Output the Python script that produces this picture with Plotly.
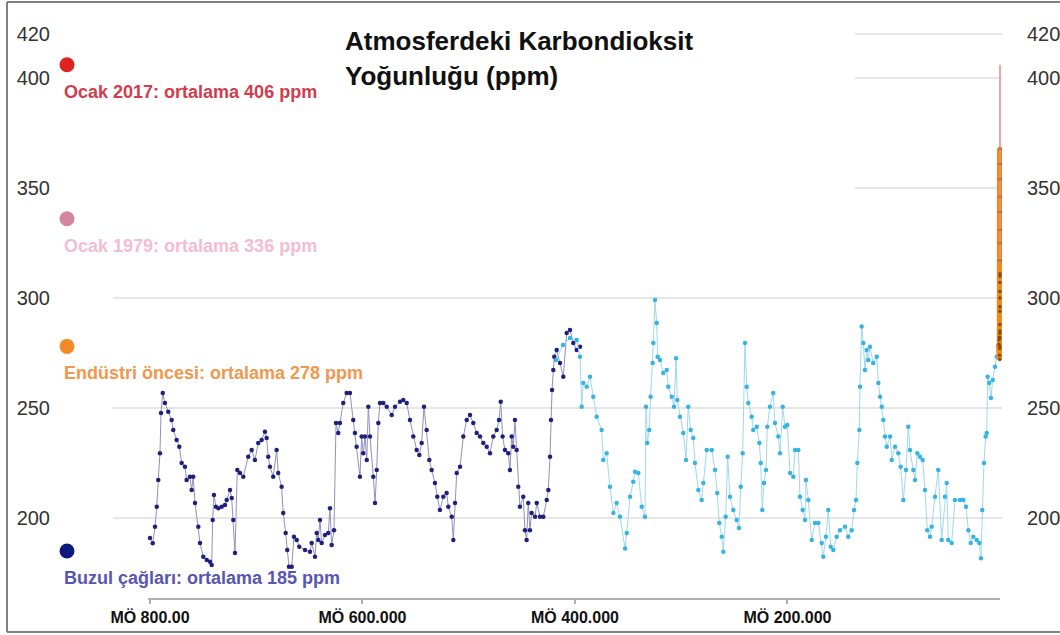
import plotly.graph_objects as go

# ---------------- data ----------------
# EPICA Dome C (older record, navy) : age in thousands of years before present, CO2 ppm
navy_age_kyr = [800.0, 797.4, 795.3, 793.6, 792.2, 790.6, 789.6, 788.0, 785.9, 782.8,
                779.6, 778.1, 774.9, 772.4, 770.2, 767.1, 765.5, 762.4, 760.8, 759.3,
                757.6, 754.5, 752.9, 749.8, 746.6, 743.5, 741.9, 741.0, 739.8, 737.9,
                735.7, 732.5, 729.4, 727.8, 724.7, 723.1, 721.6, 720.0, 717.8, 715.3,
                712.2, 707.5, 704.3, 701.2, 698.1, 694.9, 691.8, 690.2, 688.7, 687.1,
                684.0, 680.8, 679.3, 676.1, 674.6, 672.3, 670.8, 669.2, 666.6, 664.5,
                661.9, 659.5, 654.1, 649.4, 647.8, 644.7, 643.1, 641.6, 640.0, 638.4,
                635.3, 632.2, 630.6, 629.0, 626.8, 624.9, 622.8, 621.2, 618.1, 614.9,
                611.8, 608.7, 607.1, 605.5, 602.4, 600.8, 599.3, 597.6, 596.0, 594.5,
                592.9, 589.8, 588.2, 586.6, 585.1, 583.5, 580.4, 577.2, 572.5, 569.4,
                564.7, 561.6, 558.4, 555.3, 552.2, 549.0, 546.5, 544.3, 542.1, 539.6,
                537.1, 534.9, 531.8, 529.6, 527.1, 523.9, 520.8, 519.2, 516.0, 514.5,
                512.9, 511.3, 508.2, 505.1, 501.9, 498.8, 495.7, 492.5, 489.4, 486.3,
                483.1, 480.0, 476.9, 473.7, 471.5, 469.9, 468.1, 465.9, 462.8, 461.2,
                459.6, 458.1, 456.5, 454.9, 453.4, 451.8, 448.7, 447.1, 445.5, 444.0,
                442.4, 440.8, 437.6, 436.0, 432.9, 429.8, 426.6, 425.1, 423.5, 422.6,
                421.6, 420.4, 419.5, 417.2, 414.1, 411.0, 407.8, 404.7, 401.6, 398.4,
                395.3]
navy_ppm = [190.9, 188.5, 196.0, 205.1, 217.3, 229.5, 247.7, 256.8, 252.3, 248.3,
            244.5, 240.0, 235.5, 232.4, 225.0, 223.3, 217.3, 218.8, 212.7, 218.8,
            206.8, 196.0, 188.6, 182.4, 180.9, 180.1, 178.6, 199.1, 210.5, 205.1,
            204.5, 205.1, 205.9, 208.2, 212.7, 209.1, 199.1, 184.1, 221.8, 220.5,
            218.8, 227.9, 230.9, 226.4, 234.1, 235.5, 239.2, 236.4, 227.9, 223.3,
            218.8, 230.9, 220.5, 214.2, 202.3, 193.2, 185.5, 177.9, 177.9, 191.5,
            190.0, 187.0, 185.5, 184.7, 188.6, 182.4, 193.2, 190.0, 199.1, 188.6,
            192.3, 193.2, 204.5, 187.7, 194.5, 243.2, 238.6, 243.2, 252.3, 256.8,
            256.8, 244.5, 238.6, 232.4, 218.8, 237.0, 229.5, 237.0, 226.4, 250.6,
            237.0, 218.8, 206.8, 221.8, 243.2, 252.3, 252.3, 250.6, 246.8, 250.6,
            252.9, 253.6, 252.3, 244.5, 237.0, 230.9, 228.6, 234.1, 250.6, 240.0,
            226.4, 221.8, 215.9, 209.7, 203.6, 209.7, 211.4, 205.1, 200.6, 190.0,
            206.8, 220.5, 223.3, 237.0, 244.5, 246.8, 243.2, 238.6, 237.0, 234.1,
            232.4, 229.5, 237.0, 240.0, 244.5, 252.9, 237.0, 230.9, 229.5, 221.8,
            237.0, 232.4, 244.5, 230.9, 214.2, 205.1, 209.7, 194.5, 190.0, 206.8,
            194.5, 202.3, 200.6, 206.8, 200.6, 200.6, 208.2, 212.7, 227.9, 244.5,
            258.2, 267.3, 273.3, 276.4, 270.5, 264.2, 284.1, 285.5, 279.5, 276.4,
            277.9]

# Vostok (younger record, light blue)
cyan_age_kyr = [417.9, 411.3, 404.7, 398.4, 395.3, 393.7, 392.2, 389.0, 385.9, 382.8,
                379.6, 374.9, 373.4, 370.2, 367.1, 363.9, 360.8, 357.6, 352.9, 351.3,
                348.2, 345.1, 343.5, 340.4, 337.2, 334.1, 333.2, 332.0, 330.1, 328.8,
                326.9, 326.3, 324.7, 323.1, 322.2, 320.0, 316.9, 313.7, 312.2, 309.0,
                306.8, 304.9, 303.7, 301.2, 298.1, 295.5, 293.4, 291.1, 288.7, 287.1,
                283.9, 280.8, 279.2, 276.0, 271.3, 268.2, 266.1, 264.2, 261.9, 260.4,
                258.2, 256.3, 254.1, 251.0, 247.8, 245.6, 244.0, 242.2, 240.0, 238.4,
                236.9, 233.7, 232.2, 229.0, 226.5, 225.2, 223.7, 222.1, 220.2, 219.0,
                216.5, 213.4, 211.8, 208.7, 207.1, 204.5, 202.4, 200.2, 197.6, 194.5,
                192.9, 189.8, 188.2, 185.7, 183.5, 182.6, 180.4, 177.2, 174.1, 171.0,
                167.8, 166.3, 163.8, 161.6, 159.3, 156.9, 153.7, 150.6, 145.9, 142.8,
                139.6, 137.4, 135.5, 134.3, 132.4, 131.8, 130.2, 128.7, 127.1, 125.5,
                124.0, 122.4, 119.3, 116.0, 114.5, 112.9, 111.3, 109.8, 108.2, 106.6,
                103.5, 101.9, 98.8, 95.7, 93.5, 91.0, 88.5, 86.3, 84.7, 81.6,
                80.0, 77.8, 75.3, 72.8, 70.6, 68.4, 65.9, 64.3, 61.2, 58.1,
                54.9, 51.8, 50.2, 48.7, 45.5, 42.4, 37.6, 34.5, 32.0, 29.8,
                27.6, 25.1, 21.9, 19.5, 17.9, 16.7, 15.1, 13.5, 12.5, 11.6,
                10.1, 8.5, 6.9, 4.7, 3.1, 1.6]
cyan_ppm = [271.8, 278.6, 281.8, 280.9, 273.3, 250.6, 261.4, 259.7, 264.2, 255.1,
            246.0, 240.0, 226.4, 229.5, 214.2, 202.3, 206.8, 200.6, 186.2, 193.2,
            209.7, 216.5, 221.0, 220.5, 205.1, 200.6, 250.6, 234.1, 240.0, 255.1,
            270.5, 279.5, 299.1, 288.6, 273.3, 271.8, 265.9, 267.3, 259.7, 255.1,
            250.6, 272.6, 253.6, 246.0, 238.6, 226.4, 250.6, 240.0, 236.4, 225.0,
            212.7, 208.2, 215.9, 230.9, 230.9, 221.8, 211.4, 197.7, 191.5, 184.7,
            200.6, 227.9, 209.7, 203.6, 199.1, 195.5, 214.2, 229.5, 279.5, 259.7,
            252.3, 246.0, 240.0, 241.5, 234.1, 225.0, 203.6, 215.9, 221.8, 241.5,
            250.6, 256.8, 243.2, 237.0, 229.5, 250.6, 241.5, 242.3, 220.5, 218.8,
            230.9, 230.9, 209.7, 203.6, 199.1, 217.3, 208.2, 190.0, 197.7, 197.7,
            188.6, 182.4, 191.5, 203.6, 187.0, 185.5, 191.5, 194.5, 196.0, 191.5,
            194.5, 203.6, 208.2, 225.0, 240.0, 259.7, 287.0, 279.5, 267.3, 276.4,
            271.8, 277.9, 270.5, 273.3, 261.4, 255.1, 250.6, 244.5, 237.0, 232.4,
            237.0, 226.4, 232.4, 229.5, 223.3, 208.2, 221.8, 241.5, 230.9, 221.8,
            217.3, 229.5, 227.9, 226.4, 212.7, 194.5, 191.5, 196.0, 209.7, 221.8,
            190.0, 209.7, 215.9, 190.0, 188.6, 208.2, 208.2, 208.2, 205.1, 194.5,
            188.6, 191.5, 190.0, 188.6, 181.7, 203.6, 225.0, 237.0, 238.6, 264.2,
            261.4, 254.5, 262.7, 268.8, 273.3, 277.9]

# Ice-core record of the industrial era (orange)
industrial_age_kyr = [1.0, 0.8, 0.6, 0.4, 0.3, 0.267, 0.237, 0.217, 0.197, 0.167, 0.147,
                      0.127, 0.117, 0.107, 0.097, 0.087, 0.077, 0.067, 0.057, 0.047,
                      0.042, 0.037, 0.032, 0.027, 0.022, 0.017]
industrial_ppm = [279, 281, 282, 274, 272, 277, 278, 282, 284, 285, 288,
                  294, 296, 300, 303, 307, 310, 311, 317, 325,
                  331, 339, 346, 354, 361, 368]

# Direct atmospheric measurements (red)
modern_age_kyr = [0.058, 0.048, 0.038, 0.028, 0.018, 0.008, 0.0]
modern_ppm = [316, 325, 337, 353, 368, 387, 406]

# Reference levels shown at the left
level_ppm = [406, 336, 278, 185]
level_labels = ["Ocak 2017: ortalama 406 ppm", "Ocak 1979: ortalama 336 ppm",
                "Endüstri öncesi: ortalama 278 ppm", "Buzul çağları: ortalama 185 ppm"]
level_dot_colors = ["#e0221c", "#d4869f", "#f18a25", "#0b1a7c"]
level_text_colors = ["#d23c4c", "#f3bdd0", "#f2984e", "#5656b4"]

x_tick_vals_kyr = [800, 600, 400, 200]
x_tick_text = ["MÖ 800.00", "MÖ 600.000", "MÖ 400.000", "MÖ 200.000"]
y_tick_vals = [200, 250, 300, 350, 400, 420]

title_lines = ["Atmosferdeki Karbondioksit", "Yoğunluğu (ppm)"]

# ---------------- layout constants ----------------
FONT = "Liberation Sans, Arial, sans-serif"
W, H = 1060, 635
ML, MR, MT, MB = 113, 58, 10, 36
PW, PH = W - ML - MR, H - MT - MB
X_RANGE = [834800, -1882]
Y_RANGE = [163.2, 430.9]
DOT_R = 7.5


def px(xpix):
    return (xpix - ML) / PW


def py(ypix):
    return (H - MB - ypix) / PH


def yrs(vals):
    return [v * 1000 for v in vals]


fig = go.Figure()

fig.add_trace(go.Scatter(
    x=yrs(navy_age_kyr), y=navy_ppm, mode="lines+markers",
    line=dict(color="#9090bf", width=1),
    marker=dict(color="#1f1f7e", size=4.5),
    hoverinfo="skip"))

fig.add_trace(go.Scatter(
    x=yrs(cyan_age_kyr), y=cyan_ppm, mode="lines+markers",
    line=dict(color="#9fd8ee", width=1),
    marker=dict(color="#35b4e4", size=4.5),
    hoverinfo="skip"))

fig.add_trace(go.Scatter(
    x=yrs(modern_age_kyr), y=modern_ppm, mode="lines",
    line=dict(color="#ec8a84", width=1.5),
    hoverinfo="skip", yaxis="y2"))

fig.add_trace(go.Scatter(
    x=yrs(industrial_age_kyr), y=industrial_ppm, mode="lines+markers",
    line=dict(color="#f08a1e", width=6),
    marker=dict(color="#8a4a12", size=3.5, line=dict(width=0)),
    hoverinfo="skip"))

shapes = [
    # white panel hiding the upper grid lines behind the title area
    dict(type="rect", xref="paper", yref="y", x0=0, x1=px(855), y0=310, y1=Y_RANGE[1],
         fillcolor="white", line=dict(width=0), layer="above"),
    # x-axis baseline
    dict(type="line", xref="paper", yref="paper", x0=px(148), x1=px(1000), y0=0, y1=0,
         line=dict(color="#b0b0b0", width=2)),
    # outer frame
    dict(type="line", xref="paper", yref="paper", x0=px(7), x1=px(7), y0=py(2), y1=py(632),
         line=dict(color="#808080", width=2)),
    dict(type="line", xref="paper", yref="paper", x0=px(7), x1=px(1070), y0=py(2), y1=py(2),
         line=dict(color="#808080", width=2)),
    dict(type="line", xref="paper", yref="paper", x0=px(7), x1=px(1070), y0=py(632), y1=py(632),
         line=dict(color="#808080", width=2)),
]
# reference-level dots, placed at their ppm value on the y scale
for val, col in zip(level_ppm, level_dot_colors):
    shapes.append(dict(
        type="circle", xref="paper", yref="y",
        xsizemode="pixel", ysizemode="pixel", xanchor=px(67), yanchor=val,
        x0=-DOT_R, x1=DOT_R, y0=-DOT_R, y1=DOT_R,
        fillcolor=col, line=dict(width=0), layer="above"))

annotations = []
for i, line in enumerate(title_lines):
    annotations.append(dict(
        text=f"<b>{line}</b>", xref="paper", yref="paper",
        x=px(343), y=py(41 + 35 * i), xanchor="left", yanchor="middle",
        showarrow=False, font=dict(family=FONT, size=26, color="#111111")))
for val, lab, col in zip(level_ppm, level_labels, level_text_colors):
    annotations.append(dict(
        text=f"<b>{lab}</b>", xref="paper", yref="y",
        x=px(62), y=val, yshift=-27, xanchor="left", yanchor="middle",
        showarrow=False, font=dict(family=FONT, size=18, color=col)))

axis_font = dict(family=FONT, size=20, color="#333333")

fig.update_layout(
    width=W, height=H,
    margin=dict(l=ML, r=MR, t=MT, b=MB, pad=0, autoexpand=False),
    paper_bgcolor="white", plot_bgcolor="white",
    showlegend=False,
    font=dict(family=FONT),
    xaxis=dict(
        range=X_RANGE, tickvals=yrs(x_tick_vals_kyr), ticktext=x_tick_text,
        ticks="outside", ticklen=4, tickcolor="#b0b0b0", tickwidth=1.5,
        showgrid=False, zeroline=False, showline=False, automargin=False,
        tickfont=dict(family=FONT, size=16, color="#111111", weight="bold")),
    yaxis=dict(
        range=Y_RANGE, tickvals=y_tick_vals, ticks="", automargin=False,
        showgrid=True, gridcolor="#e6e6e6", gridwidth=1.5, zeroline=False,
        showline=False, ticklabelstandoff=62, tickfont=axis_font),
    yaxis2=dict(
        range=Y_RANGE, tickvals=y_tick_vals, ticks="", overlaying="y", side="right",
        showgrid=False, zeroline=False, showline=False, ticklabelstandoff=24,
        automargin=False, tickfont=axis_font),
    shapes=shapes, annotations=annotations,
)

fig.write_html("out.html", config={"displayModeBar": False},
               post_script="document.body.style.margin='0';document.body.style.overflow='hidden';")
